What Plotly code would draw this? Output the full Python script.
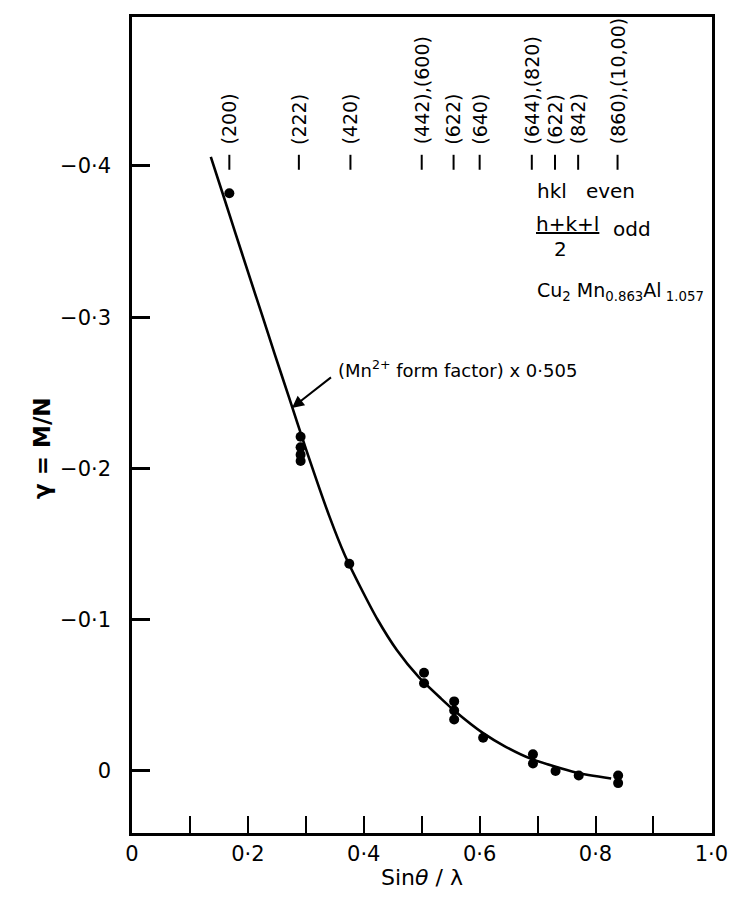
import plotly.graph_objects as go

# ---- data ----
pts_x = [0.168, 0.291, 0.291, 0.291, 0.291, 0.375, 0.504, 0.504, 0.556, 0.556, 0.556,
         0.606, 0.692, 0.692, 0.731, 0.771, 0.839, 0.839]
pts_y = [-0.382, -0.221, -0.214, -0.209, -0.205, -0.137, -0.065, -0.058, -0.046, -0.040, -0.034,
         -0.022, -0.011, -0.005, 0.000, 0.003, 0.003, 0.008]

curve_x = [0.136, 0.158, 0.179, 0.201, 0.224, 0.246, 0.271, 0.301, 0.341, 0.367, 0.395,
           0.424, 0.457, 0.495, 0.533, 0.556, 0.606, 0.645, 0.689, 0.766, 0.827]
curve_y = [-0.406, -0.380, -0.355, -0.329, -0.302, -0.276, -0.247, -0.212, -0.168, -0.143, -0.121,
           -0.100, -0.080, -0.062, -0.048, -0.040, -0.025, -0.016, -0.008, 0.001, 0.005]

hkl_x = [0.168, 0.288, 0.377, 0.500, 0.555, 0.600, 0.690, 0.730, 0.770, 0.838]
hkl_labels = ["(200)", "(222)", "(420)", "(442),(600)", "(622)", "(640)",
              "(644),(820)", "(622)", "(842)", "(860),(10,00)"]

x_ticks = [0.0, 0.1, 0.2, 0.3, 0.4, 0.5, 0.6, 0.7, 0.8, 0.9, 1.0]
x_ticktext = ["0", "", "0·2", "", "0·4", "", "0·6", "", "0·8", "", "1·0"]
y_ticks = [-0.4, -0.3, -0.2, -0.1, 0.0]
y_ticktext = ["−0·4", "−0·3", "−0·2", "−0·1", "0"]

FONT = "DejaVu Sans"

fig = go.Figure()
fig.add_trace(go.Scatter(x=curve_x, y=curve_y, mode="lines",
                         line=dict(color="black", width=2.6, shape="spline", smoothing=0.6),
                         showlegend=False, hoverinfo="skip"))
fig.add_trace(go.Scatter(x=pts_x, y=pts_y, mode="markers",
                         marker=dict(color="black", size=10),
                         showlegend=False))

# hkl marker ticks and labels at the top
for hx, lab in zip(hkl_x, hkl_labels):
    fig.add_shape(type="line", x0=hx, x1=hx, y0=-0.4074, y1=-0.3975,
                  xref="x", yref="y", line=dict(color="black", width=2))
    fig.add_annotation(x=hx, y=-0.4128, xref="x", yref="y", text=lab, textangle=-90,
                       showarrow=False, xanchor="center", yanchor="bottom",
                       font=dict(family=FONT, size=19, color="black"))

# form factor annotation with arrow
fig.add_annotation(x=0.276, y=-0.240, ax=0.346, ay=-0.261, xref="x", yref="y",
                   axref="x", ayref="y", text="", showarrow=True,
                   arrowhead=2, arrowsize=1.2, arrowwidth=2, arrowcolor="black")
fig.add_annotation(x=0.352, y=-0.266, xref="x", yref="y", xanchor="left", yanchor="middle",
                   text="(Mn<sup>2+</sup> form factor) x 0·505", showarrow=False,
                   font=dict(family=FONT, size=18, color="black"))

# right side texts
fig.add_annotation(x=0.696, y=-0.3835, xref="x", yref="y", xanchor="left", yanchor="middle",
                   text="hkl   even", showarrow=False,
                   font=dict(family=FONT, size=20, color="black"))
fig.add_annotation(x=0.693, y=-0.3617, xref="x", yref="y", xanchor="left", yanchor="middle",
                   text="<u>h+k+l</u>", showarrow=False,
                   font=dict(family=FONT, size=20, color="black"))
fig.add_annotation(x=0.740, y=-0.3450, xref="x", yref="y", xanchor="center", yanchor="middle",
                   text="2", showarrow=False,
                   font=dict(family=FONT, size=20, color="black"))
fig.add_annotation(x=0.826, y=-0.3583, xref="x", yref="y", xanchor="left", yanchor="middle",
                   text="odd", showarrow=False,
                   font=dict(family=FONT, size=20, color="black"))
fig.add_annotation(x=0.696, y=-0.3170, xref="x", yref="y", xanchor="left", yanchor="middle",
                   text="Cu<sub>2</sub> Mn<sub>0.863</sub>Al<sub> 1.057</sub>", showarrow=False,
                   font=dict(family=FONT, size=19, color="black"))

# axis titles
fig.add_annotation(x=0.5, y=-0.0551, xref="paper", yref="paper", xanchor="center", yanchor="middle",
                   text="Sin<i>θ</i> / λ", showarrow=False,
                   font=dict(family=FONT, size=22, color="black"))
fig.add_annotation(x=-0.155, y=0.472, xref="paper", yref="paper", xanchor="center", yanchor="middle",
                   text="<b>γ = M/N</b>", textangle=-90, showarrow=False,
                   font=dict(family=FONT, size=23, color="black"))

fig.update_xaxes(range=[0, 1.001], tickmode="array", tickvals=x_ticks, ticktext=x_ticktext,
                 ticks="inside", ticklen=17, tickwidth=1.5, tickcolor="black",
                 showline=True, linecolor="black", linewidth=2.5, mirror=True,
                 showgrid=False, zeroline=False, ticklabeloverflow="allow",
                 tickfont=dict(family=FONT, size=21, color="black"))
fig.update_yaxes(range=[0.041, -0.4985], tickmode="array", tickvals=y_ticks, ticktext=y_ticktext,
                 ticks="inside", ticklen=18, tickwidth=2.5, tickcolor="black",
                 showline=True, linecolor="black", linewidth=2.5, mirror=True,
                 showgrid=False, zeroline=False, ticklabelstandoff=14,
                 tickfont=dict(family=FONT, size=21, color="black"))

# keep the whole figure inside the visible page area
fig.update_layout(width=722, height=882, margin=dict(l=124, r=2, t=9, b=57),
                  paper_bgcolor="white", plot_bgcolor="white", showlegend=False)

fig.write_html("out.html")
